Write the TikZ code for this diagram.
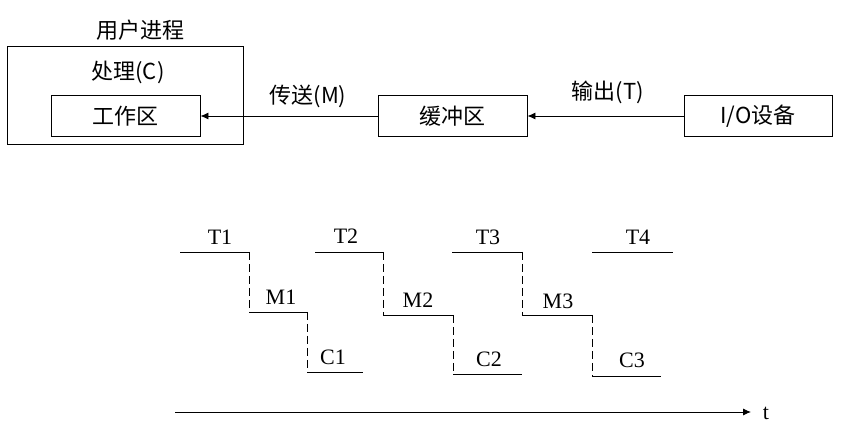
\documentclass[tikz,border=0pt]{standalone}
\usepackage{fontspec}
\setmainfont{Liberation Serif}
\newfontfamily\cjkfont{Noto Sans CJK SC}
\usetikzlibrary{arrows.meta, positioning}
\tikzset{
  areabox/.style={draw, line width=0.9pt, inner sep=0pt, font=\cjkfont\fontsize{22}{24}\selectfont},
  cjklabel/.style={font=\cjkfont\fontsize{22}{24}\selectfont, inner sep=0pt},
  flow/.style={line width=0.9pt, -{Latex[length=8pt,width=7pt]}},
  seg/.style={line width=0.9pt},
  gap/.style={line width=0.9pt, dash pattern=on 8pt off 4pt},
  stagelabel/.style={font=\fontsize{22}{24}\selectfont, anchor=base, inner sep=0pt},
}

\begin{document}
\begin{tikzpicture}[x=1pt,y=-1pt]
  \path[use as bounding box] (0,0) rectangle (847,438);
  \fill[white] (0,0) rectangle (847,438);

  % user process and the three areas
  \node[areabox, minimum width=236pt, minimum height=98pt] (proc) at (125,95) {};
  \node[cjklabel] (procname) at (140,30) {用户进程};
  \node[cjklabel] (handle) at (128,72) {处理(C)};
  \node[areabox, minimum width=149pt, minimum height=41pt] (work) at (125.5,116) {工作区};
  \node[areabox, minimum width=149pt, minimum height=41pt] (buffer) at (452.5,116) {缓冲区};
  \node[areabox, minimum width=148pt, minimum height=41pt] (device) at (758,116) {I/O设备};

  \draw[flow] (buffer.west) -- (work.east);
  \draw[flow] (device.west) -- (buffer.east);
  \node[cjklabel] (send) at (308,96) {传送(M)};
  \node[cjklabel] (output) at (608,92) {输出(T)};

  % T -> M -> C steps
  \foreach \n/\xt/\xm/\xc/\xe/\ym/\yc in {1/180/249/307/363/312/372,
                                          2/315/383/453/522/315/374,
                                          3/452/522/592/661/315/376}{
    \coordinate (T\n s) at (\xt,252);
    \coordinate (T\n e) at (\xm,252);
    \coordinate (M\n s) at (\xm,\ym);
    \coordinate (M\n e) at (\xc,\ym);
    \coordinate (C\n s) at (\xc,\yc);
    \coordinate (C\n e) at (\xe,\yc);
    \draw[seg] (T\n s) -- (T\n e);
    \draw[gap] (T\n e) -- (M\n s);
    \draw[seg] (M\n s) -- (M\n e);
    \draw[gap] (M\n e) -- (C\n s);
    \draw[seg] (C\n s) -- (C\n e);
  }
  \coordinate (T4s) at (592,252);
  \coordinate (T4e) at (673,252);
  \draw[seg] (T4s) -- (T4e);

  \node[stagelabel] (lblT1) at (220,245) {T1};
  \node[stagelabel] (lblM1) at (281,305) {M1};
  \node[stagelabel] (lblC1) at (333,365) {C1};
  \node[stagelabel] (lblT2) at (346,244) {T2};
  \node[stagelabel] (lblM2) at (418,308) {M2};
  \node[stagelabel] (lblC2) at (489,367) {C2};
  \node[stagelabel] (lblT3) at (488,245) {T3};
  \node[stagelabel] (lblM3) at (558,309) {M3};
  \node[stagelabel] (lblC3) at (632,368) {C3};
  \node[stagelabel] (lblT4) at (638,245) {T4};

  % time axis
  \coordinate (axisstart) at (175,412);
  \coordinate (axisend) at (751,412);
  \draw[flow] (axisstart) -- (axisend);
  \node[stagelabel] (tlabel) at (766,420) {t};
\end{tikzpicture}
\end{document}
